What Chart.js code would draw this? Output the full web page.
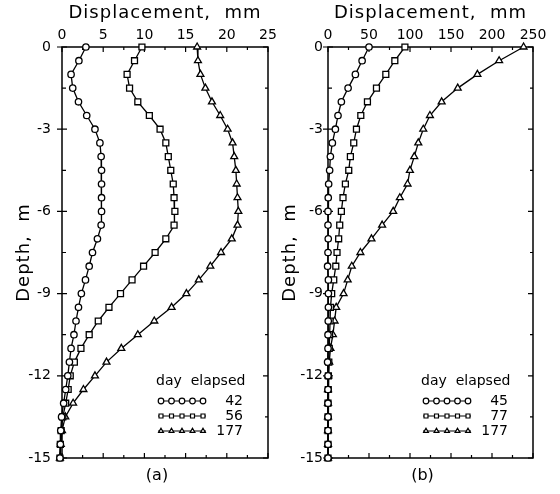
<!DOCTYPE html>
<html>
<head>
<meta charset="utf-8">
<script src="https://cdn.jsdelivr.net/npm/chart.js@4.4.1/dist/chart.umd.min.js"></script>
<style>
  body { margin: 0; background: #fff; }
  #wrap { position: relative; width: 560px; height: 494px; }
  .panel { position: absolute; top: 0; width: 280px; height: 494px; }
</style>
</head>
<body>
<div id="wrap">
  <div class="panel" style="left:0"><canvas id="chartA" width="280" height="494"></canvas></div>
  <div class="panel" style="left:280px"><canvas id="chartB" width="280" height="494"></canvas></div>
</div>
<script>
// DATA
const depths = [0, -0.5, -1, -1.5, -2, -2.5, -3, -3.5, -4, -4.5, -5, -5.5, -6, -6.5, -7, -7.5,
  -8, -8.5, -9, -9.5, -10, -10.5, -11, -11.5, -12, -12.5, -13, -13.5, -14, -14.5, -15];

// panel (a)
const labelsA = ['42', '56', '177'];
const dispA42 = [2.9, 2.05, 1.1, 1.3, 2.0, 3.0, 4.0, 4.6, 4.75, 4.8, 4.8, 4.8, 4.8, 4.75, 4.3, 3.7,
  3.3, 2.85, 2.35, 2.0, 1.7, 1.45, 1.1, 0.9, 0.7, 0.45, 0.2, -0.05, -0.15, -0.2, -0.25];
const dispA56 = [9.7, 8.8, 7.9, 8.2, 9.2, 10.6, 11.9, 12.6, 12.9, 13.2, 13.5, 13.6, 13.7, 13.6, 12.6, 11.3,
  9.9, 8.5, 7.1, 5.7, 4.4, 3.3, 2.3, 1.5, 1.0, 0.75, 0.45, 0.1, -0.1, -0.2, -0.25];
const dispA177 = [16.4, 16.5, 16.8, 17.4, 18.2, 19.2, 20.1, 20.7, 20.9, 21.1, 21.2, 21.3, 21.4, 21.3, 20.6, 19.3,
  18.0, 16.6, 15.1, 13.3, 11.2, 9.2, 7.2, 5.4, 4.0, 2.6, 1.35, 0.4, 0, -0.15, -0.25];

// panel (b)
const labelsB = ['45', '77', '177'];
const dispB45 = [50, 41.6, 33.4, 24.5, 16.3, 12.2, 9.0, 5.3, 2.9, 2.0, 0.8, 0.3, 0, 0, 0.3, 0,
  -0.5, 0.5, 0.5, 0.5, 0.3, 0, 0, -0.5, 0, 0, 0, 0, 0, 0, 0];
const dispB77 = [93.8, 81.5, 70.5, 59.1, 48.1, 40, 34.7, 31.4, 27.3, 25.3, 21.2, 18.3, 16.3, 14.3, 13, 11,
  9.5, 7, 4.5, 3, 2.5, 2, 1.5, 1, 0.5, 0.3, 0, 0, 0, 0, 0];
const dispB177 = [238.5, 208.7, 182.2, 158.2, 138.6, 124.3, 116.2, 110.1, 105.2, 99.9, 97, 87.6, 79.5, 66, 53, 39.5,
  29, 24, 19, 10, 8, 6, 3, 1.5, 0.5, 0, 0, 0, 0, 0, 0];

const yTicks = { min: -15, max: 0, step: 3 };
const xTicksA = { min: 0, max: 25, step: 5 };
const xTicksB = { min: 0, max: 250, step: 50 };

const FONT = "'DejaVu Sans', sans-serif";
Chart.defaults.font.family = FONT;
Chart.defaults.font.size = 14;
Chart.defaults.color = '#000';

const styles = ['circle', 'rect', 'triangle'];
const radii = [3.2, 4.2, 4];

function makeSets(labels, series) {
  return series.map((vals, i) => ({
    label: labels[i],
    data: depths.map((d, k) => ({ x: vals[k], y: d })),
    showLine: true,
    borderColor: '#000',
    borderWidth: 1.3,
    pointStyle: styles[i],
    pointRadius: radii[i],
    pointBorderWidth: 1.3,
    pointBackgroundColor: '#fff',
    pointBorderColor: '#000',
    clip: false
  }));
}

// box, inward ticks, titles and the "day elapsed" legend
const panelDecor = {
  id: 'panelDecor',
  beforeDatasetsDraw(chart) {
    const { ctx, chartArea: a, scales: { x, y } } = chart;
    ctx.save();
    ctx.strokeStyle = '#000';
    ctx.lineWidth = 1.5;
    ctx.strokeRect(a.left, a.top, a.right - a.left, a.bottom - a.top);
    ctx.lineWidth = 1.2;
    ctx.beginPath();
    const xt = x.ticks.map(t => t.value);
    xt.forEach((v, i) => {
      const p = x.getPixelForValue(v);
      ctx.moveTo(p, a.top); ctx.lineTo(p, a.top + 5);
      ctx.moveTo(p, a.bottom); ctx.lineTo(p, a.bottom - 5);
      if (i < xt.length - 1) {
        const m = x.getPixelForValue((v + xt[i + 1]) / 2);
        ctx.moveTo(m, a.top); ctx.lineTo(m, a.top + 3);
        ctx.moveTo(m, a.bottom); ctx.lineTo(m, a.bottom - 3);
      }
    });
    const yt = y.ticks.map(t => t.value);
    yt.forEach((v, i) => {
      const p = y.getPixelForValue(v);
      ctx.moveTo(a.left - 5, p); ctx.lineTo(a.left + 5, p);
      ctx.moveTo(a.right, p); ctx.lineTo(a.right - 5, p);
      if (i < yt.length - 1) {
        const m = y.getPixelForValue((v + yt[i + 1]) / 2);
        ctx.moveTo(a.left, m); ctx.lineTo(a.left + 4, m);
        ctx.moveTo(a.right, m); ctx.lineTo(a.right - 3, m);
      }
    });
    ctx.stroke();
    ctx.restore();
  },
  afterDraw(chart, args, opts) {
    const { ctx, chartArea: a } = chart;
    const cx = (a.left + a.right) / 2;
    ctx.save();
    ctx.fillStyle = '#000';
    ctx.strokeStyle = '#000';
    ctx.textAlign = 'center';
    ctx.textBaseline = 'middle';
    if ('letterSpacing' in ctx) ctx.letterSpacing = '1px';
    ctx.font = '18px ' + FONT;
    ctx.fillText('Displacement,  mm', cx, a.top - 34);
    ctx.save();
    ctx.translate(a.left - 38, (a.top + a.bottom) / 2);
    ctx.rotate(-Math.PI / 2);
    ctx.fillText('Depth,  m', 0, 0);
    ctx.restore();
    if ('letterSpacing' in ctx) ctx.letterSpacing = '0px';
    ctx.font = '16px ' + FONT;
    ctx.fillText(opts.tag, cx - 8, a.bottom + 18);

    // legend
    ctx.font = '14px ' + FONT;
    ctx.textAlign = 'left';
    ctx.fillText('day  elapsed', a.right - 112, a.bottom - 77);
    chart.data.datasets.forEach((ds, i) => {
      const ry = a.bottom - 57 + i * 15;
      ctx.lineWidth = 1.2;
      ctx.beginPath();
      ctx.moveTo(a.right - 110, ry);
      ctx.lineTo(a.right - 62, ry);
      ctx.stroke();
      ctx.fillStyle = '#fff';
      for (let k = 0; k < 5; k++) {
        Chart.helpers.drawPoint(ctx, { pointStyle: ds.pointStyle, radius: 2.8, rotation: 0, borderWidth: 1.1 },
          a.right - 107 + k * 10.5, ry);
      }
      ctx.fillStyle = '#000';
      ctx.textAlign = 'right';
      ctx.fillText(ds.label, a.right - 25, ry);
      ctx.textAlign = 'left';
    });
    ctx.restore();
  }
};

function makeChart(id, sets, xt, yAxisWidth, rightPad, yPad, tag) {
  return new Chart(document.getElementById(id), {
    type: 'scatter',
    data: { datasets: sets },
    options: {
      responsive: false,
      animation: false,
      layout: { padding: { left: 0, right: rightPad, top: 0, bottom: 36 } },
      plugins: { legend: { display: false }, tooltip: { enabled: false }, panelDecor: { tag } },
      scales: {
        x: {
          type: 'linear', position: 'top', min: xt.min, max: xt.max,
          ticks: { stepSize: xt.step, padding: 3, maxRotation: 0 },
          grid: { display: false, drawTicks: false }, border: { display: false },
          afterFit(s) { s.height = 47; }
        },
        y: {
          type: 'linear', min: yTicks.min, max: yTicks.max,
          ticks: { stepSize: yTicks.step, padding: yPad },
          grid: { display: false, drawTicks: false }, border: { display: false },
          afterFit(s) { s.width = yAxisWidth; }
        }
      }
    },
    plugins: [panelDecor]
  });
}

makeChart('chartA', makeSets(labelsA, [dispA42, dispA56, dispA177]), xTicksA, 62, 12, 11, '(a)');
makeChart('chartB', makeSets(labelsB, [dispB45, dispB77, dispB177]), xTicksB, 48, 27, 5, '(b)');
</script>
</body>
</html>
